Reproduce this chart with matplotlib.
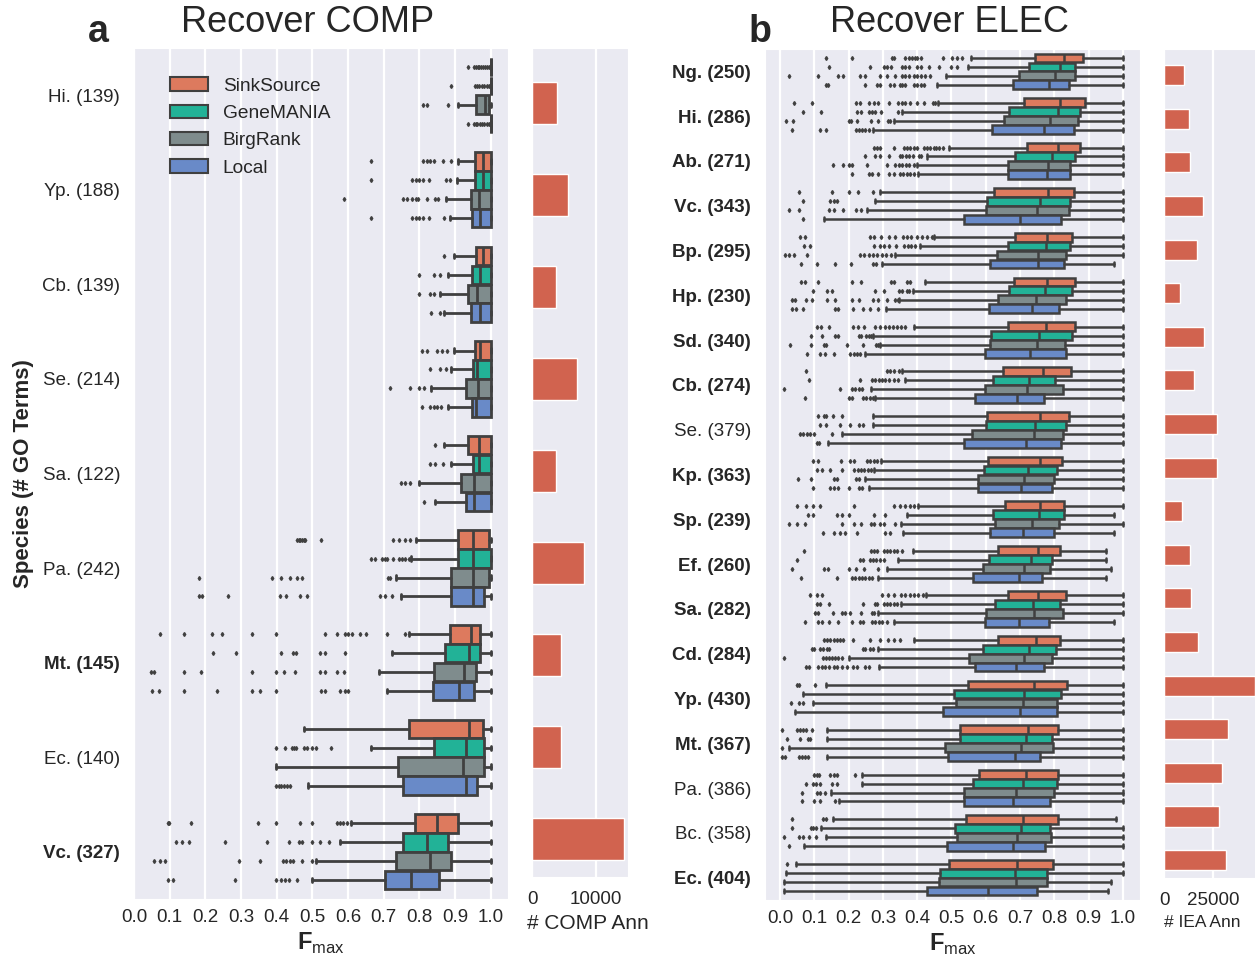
import numpy as np
import matplotlib
matplotlib.use('Agg')
import matplotlib.pyplot as plt
from matplotlib.patches import Patch
import seaborn as sns

sns.set_style('darkgrid')
plt.rcParams['font.family'] = ['Liberation Sans', 'DejaVu Sans']
plt.rcParams['mathtext.fontset'] = 'custom'
plt.rcParams['mathtext.rm'] = 'Liberation Sans'
plt.rcParams['mathtext.bf'] = 'Liberation Sans:bold'
plt.rcParams['text.color'] = '.15'
plt.rcParams['xtick.color'] = '.15'
plt.rcParams['ytick.color'] = '.15'

methods = ['SinkSource', 'GeneMANIA', 'BirgRank', 'Local']
box_colors = ['#dd7a5e', '#22b297', '#7f8c8d', '#698ac8']
bar_color = '#d1634f'
line_gray = '#404040'

# ---------------- COMP ----------------
comp_species = ['Hi. (139)', 'Yp. (188)', 'Cb. (139)', 'Se. (214)', 'Sa. (122)',
                'Pa. (242)', 'Mt. (145)', 'Ec. (140)', 'Vc. (327)']
comp_bold = [False, False, False, False, False, False, True, False, True]
comp_ann = [3950, 5660, 3800, 7050, 3800, 8140, 4570, 4570, 14300]

# rows: whislo, q1, median, q3, whishi
comp_sinksource = [
    [1.0, 1.0, 1.0, 1.0, 1.0], [0.907, 0.955, 0.977, 1.0, 1.0],
    [0.897, 0.957, 0.977, 1.0, 1.0], [0.897, 0.955, 0.970, 1.0, 1.0],
    [0.868, 0.937, 0.968, 1.0, 1.0], [0.791, 0.907, 0.951, 0.994, 1.0],
    [0.770, 0.886, 0.944, 0.970, 1.0], [0.476, 0.770, 0.938, 0.977, 1.0],
    [0.608, 0.786, 0.849, 0.909, 1.0]]
comp_sinksource_fl = [
    [0.937, 0.953, 0.958, 0.963, 0.968, 0.973, 0.978, 0.984, 0.989, 0.994],
    [0.664, 0.81, 0.82, 0.83, 0.84, 0.866, 0.888],
    [0.868],
    [0.807, 0.82, 0.85, 0.863, 0.877],
    [0.844],
    [0.457, 0.461, 0.465, 0.47, 0.475, 0.48, 0.524, 0.726, 0.742, 0.758, 0.772],
    [0.072, 0.141, 0.219, 0.247, 0.331, 0.399, 0.536, 0.57, 0.592, 0.6, 0.61,
     0.634, 0.651, 0.709, 0.76],
    [],
    [0.094, 0.097, 0.16, 0.347, 0.399, 0.464, 0.499, 0.569, 0.578, 0.587, 0.597]]

comp_genemania = [
    [1.0, 1.0, 1.0, 1.0, 1.0], [0.905, 0.955, 0.977, 1.0, 1.0],
    [0.879, 0.947, 0.970, 1.0, 1.0], [0.888, 0.950, 0.961, 1.0, 1.0],
    [0.888, 0.950, 0.968, 1.0, 1.0], [0.776, 0.907, 0.951, 1.0, 1.0],
    [0.723, 0.872, 0.938, 0.970, 1.0], [0.665, 0.840, 0.931, 0.981, 1.0],
    [0.578, 0.754, 0.821, 0.879, 1.0]]
comp_genemania_fl = [
    [0.888, 0.955, 0.96, 0.968, 0.975, 0.98, 0.988, 0.994],
    [0.664, 0.78, 0.79, 0.80, 0.81, 0.828, 0.874, 0.885],
    [0.80, 0.84, 0.857],
    [0.83, 0.857, 0.873],
    [0.83, 0.844, 0.866],
    [0.664, 0.676, 0.694, 0.704, 0.709, 0.726, 0.742, 0.751, 0.76, 0.77],
    [0.221, 0.287, 0.412, 0.446, 0.455, 0.52, 0.536, 0.592],
    [0.399, 0.424, 0.443, 0.448, 0.455, 0.476, 0.485, 0.499, 0.511, 0.553],
    [0.119, 0.135, 0.153, 0.256, 0.373, 0.434, 0.462, 0.471, 0.499, 0.522, 0.546]]

comp_birgrank = [
    [0.907, 0.959, 0.984, 0.994, 1.0], [0.873, 0.943, 0.968, 1.0, 1.0],
    [0.857, 0.937, 0.961, 1.0, 1.0], [0.833, 0.931, 0.963, 1.0, 1.0],
    [0.800, 0.917, 0.954, 1.0, 1.0], [0.735, 0.888, 0.951, 0.994, 1.0],
    [0.687, 0.842, 0.924, 0.959, 1.0], [0.399, 0.741, 0.922, 0.980, 1.0],
    [0.511, 0.734, 0.830, 0.889, 1.0]]
comp_birgrank_fl = [
    [0.81, 0.82, 0.88],
    [0.588, 0.755, 0.765, 0.78, 0.79, 0.797, 0.82, 0.844, 0.853],
    [0.80, 0.83, 0.842],
    [0.718, 0.772, 0.80, 0.812],
    [0.748, 0.76, 0.774],
    [0.183, 0.387, 0.413, 0.438, 0.457, 0.471, 0.713, 0.718],
    [0.048, 0.057, 0.141, 0.188, 0.331, 0.399, 0.42, 0.452, 0.522, 0.536, 0.57, 0.589],
    [],
    [0.057, 0.074, 0.088, 0.294, 0.352, 0.418, 0.427, 0.436, 0.446, 0.471, 0.499]]

comp_local = [
    [1.0, 1.0, 1.0, 1.0, 1.0], [0.886, 0.947, 0.970, 1.0, 1.0],
    [0.868, 0.945, 0.970, 1.0, 1.0], [0.879, 0.947, 0.958, 1.0, 1.0],
    [0.844, 0.931, 0.954, 1.0, 1.0], [0.748, 0.888, 0.951, 0.981, 1.0],
    [0.709, 0.837, 0.910, 0.954, 1.0], [0.487, 0.755, 0.931, 0.961, 1.0],
    [0.499, 0.704, 0.777, 0.856, 1.0]]
comp_local_fl = [
    [0.937, 0.952, 0.957, 0.962, 0.97, 0.975, 0.98, 0.99, 0.995],
    [0.664, 0.78, 0.79, 0.80, 0.81, 0.828, 0.868],
    [0.832, 0.857],
    [0.807, 0.83, 0.84, 0.85, 0.86],
    [0.812],
    [0.183, 0.19, 0.263, 0.41, 0.426, 0.466, 0.485, 0.69, 0.704, 0.723],
    [0.05, 0.069, 0.141, 0.233, 0.331, 0.352, 0.399, 0.524, 0.536, 0.576, 0.592, 0.601],
    [0.399, 0.406, 0.412, 0.42, 0.428, 0.438],
    [0.094, 0.109, 0.284, 0.399, 0.412, 0.424, 0.433, 0.457]]

# ---------------- ELEC ----------------
elec_species = ['Ng. (250)', 'Hi. (286)', 'Ab. (271)', 'Vc. (343)', 'Bp. (295)',
                'Hp. (230)', 'Sd. (340)', 'Cb. (274)', 'Se. (379)', 'Kp. (363)',
                'Sp. (239)', 'Ef. (260)', 'Sa. (282)', 'Cd. (284)', 'Yp. (430)',
                'Mt. (367)', 'Pa. (386)', 'Bc. (358)', 'Ec. (404)']
elec_bold = [True, True, True, True, True, True, True, True, False, True,
             True, True, True, True, True, True, False, False, True]
elec_ann = [10350, 12880, 13380, 19950, 16920, 8330, 20450, 15400, 27020, 27020,
            9340, 13380, 13890, 17420, 46500, 32570, 29540, 28030, 31560]

elec_sinksource = [
    [0.557, 0.745, 0.828, 0.883, 1.0], [0.461, 0.711, 0.818, 0.891, 1.0],
    [0.492, 0.719, 0.810, 0.874, 1.0], [0.292, 0.623, 0.781, 0.857, 1.0],
    [0.450, 0.685, 0.779, 0.852, 1.0], [0.424, 0.682, 0.779, 0.859, 1.0],
    [0.391, 0.664, 0.777, 0.859, 1.0], [0.357, 0.649, 0.767, 0.849, 1.0],
    [0.271, 0.604, 0.757, 0.844, 1.0], [0.294, 0.606, 0.757, 0.823, 1.0],
    [0.402, 0.655, 0.757, 0.828, 1.0], [0.387, 0.636, 0.752, 0.816, 0.951],
    [0.426, 0.665, 0.753, 0.833, 1.0], [0.391, 0.636, 0.747, 0.818, 1.0],
    [0.133, 0.548, 0.742, 0.837, 1.0], [0.136, 0.526, 0.723, 0.811, 1.0],
    [0.239, 0.579, 0.716, 0.810, 1.0], [0.153, 0.542, 0.708, 0.811, 0.979],
    [0.047, 0.492, 0.691, 0.796, 1.0]]
elec_sinksource_fl = [
    [0.133, 0.211, 0.326, 0.333, 0.365, 0.375, 0.385, 0.395, 0.4, 0.41, 0.475, 0.501, 0.516, 0.531],
    [0.041, 0.094, 0.222, 0.234, 0.26, 0.273, 0.287, 0.319, 0.343, 0.355, 0.365, 0.378,
     0.399, 0.421, 0.446, 0.453],
    [0.273, 0.282, 0.292, 0.333, 0.362, 0.37, 0.38, 0.39, 0.399, 0.419, 0.428, 0.438,
     0.448, 0.455, 0.465, 0.475],
    [0.056, 0.151, 0.2, 0.226, 0.271],
    [0.058, 0.073, 0.263, 0.275, 0.294, 0.319, 0.336, 0.358, 0.37, 0.382, 0.4, 0.414,
     0.428, 0.443],
    [0.06, 0.073, 0.112, 0.209, 0.236, 0.323, 0.333, 0.37, 0.378],
    [0.109, 0.119, 0.143, 0.214, 0.226, 0.246, 0.278, 0.292, 0.307, 0.319, 0.329, 0.341,
     0.352, 0.365],
    [0.076, 0.312, 0.32, 0.331, 0.346],
    [0.11, 0.127, 0.133, 0.153, 0.18],
    [0.097, 0.112, 0.178, 0.204, 0.216, 0.253, 0.263, 0.273, 0.282],
    [0.049, 0.076, 0.097, 0.117, 0.216, 0.331, 0.35, 0.365, 0.38, 0.39],
    [0.07, 0.266, 0.275, 0.284, 0.302, 0.312, 0.321, 0.331, 0.341, 0.357],
    [0.086, 0.107, 0.122, 0.297, 0.316, 0.331, 0.352, 0.365, 0.378, 0.39, 0.401, 0.417],
    [0.129, 0.137, 0.146, 0.156, 0.166, 0.175, 0.183, 0.214, 0.263, 0.292, 0.316, 0.333, 0.351],
    [0.049, 0.056, 0.102],
    [0.005, 0.049, 0.058, 0.068, 0.076, 0.094],
    [0.099, 0.107, 0.114, 0.146, 0.156, 0.166, 0.219],
    [0.034, 0.125, 0.133],
    [0.021]]

elec_genemania = [
    [0.548, 0.725, 0.818, 0.859, 1.0], [0.357, 0.667, 0.810, 0.876, 1.0],
    [0.430, 0.685, 0.794, 0.859, 1.0], [0.278, 0.604, 0.759, 0.845, 1.0],
    [0.409, 0.665, 0.776, 0.845, 1.0], [0.387, 0.667, 0.772, 0.852, 1.0],
    [0.271, 0.615, 0.755, 0.852, 1.0], [0.363, 0.620, 0.725, 0.801, 1.0],
    [0.270, 0.601, 0.745, 0.835, 1.0], [0.275, 0.594, 0.722, 0.808, 1.0],
    [0.370, 0.620, 0.755, 0.828, 0.974], [0.343, 0.609, 0.733, 0.794, 0.951],
    [0.352, 0.628, 0.737, 0.818, 1.0], [0.285, 0.591, 0.725, 0.805, 1.0],
    [0.068, 0.508, 0.711, 0.820, 1.0], [0.136, 0.526, 0.716, 0.794, 1.0],
    [0.239, 0.562, 0.708, 0.808, 1.0], [0.120, 0.511, 0.703, 0.786, 1.0],
    [0.018, 0.467, 0.685, 0.779, 1.0]]
elec_genemania_fl = [
    [0.143, 0.263, 0.302, 0.312, 0.323, 0.355, 0.365, 0.375, 0.4, 0.41, 0.433, 0.463, 0.5, 0.516],
    [0.068, 0.119, 0.224, 0.236, 0.26, 0.268, 0.276, 0.295, 0.343],
    [0.248, 0.277, 0.292, 0.319, 0.349, 0.357, 0.366, 0.375, 0.387, 0.404, 0.411],
    [0.066, 0.146, 0.156, 0.166],
    [0.07, 0.088, 0.275, 0.292, 0.302, 0.319, 0.339, 0.362, 0.372, 0.382, 0.394],
    [0.097, 0.136, 0.151, 0.277, 0.304, 0.346, 0.357, 0.37, 0.375],
    [0.091, 0.122, 0.159, 0.168, 0.229, 0.236, 0.251, 0.258, 0.265],
    [0.083, 0.234, 0.268, 0.278, 0.288, 0.297, 0.307, 0.319, 0.331, 0.343],
    [0.115, 0.133, 0.175, 0.203, 0.229, 0.241],
    [0.107, 0.122, 0.146, 0.18, 0.216, 0.226, 0.236, 0.246, 0.256, 0.265],
    [0.08, 0.097, 0.166, 0.182, 0.2, 0.275, 0.307],
    [0.049, 0.232, 0.241, 0.261, 0.271, 0.281, 0.292, 0.302],
    [0.107, 0.117, 0.143, 0.241, 0.277, 0.284, 0.302, 0.312, 0.321, 0.331, 0.341],
    [0.094, 0.1, 0.117, 0.126, 0.136, 0.144, 0.241, 0.248, 0.263, 0.271],
    [],
    [0.019, 0.058, 0.08, 0.088],
    [0.076, 0.095, 0.105, 0.117, 0.151, 0.166],
    [0.034, 0.091, 0.097, 0.104],
    []]

elec_birgrank = [
    [0.484, 0.698, 0.801, 0.859, 1.0], [0.331, 0.652, 0.786, 0.869, 1.0],
    [0.399, 0.665, 0.781, 0.845, 1.0], [0.253, 0.601, 0.750, 0.842, 1.0],
    [0.336, 0.633, 0.753, 0.835, 1.0], [0.346, 0.636, 0.748, 0.834, 1.0],
    [0.292, 0.611, 0.750, 0.831, 1.0], [0.266, 0.599, 0.721, 0.825, 1.0],
    [0.182, 0.560, 0.740, 0.825, 1.0], [0.248, 0.577, 0.713, 0.800, 1.0],
    [0.352, 0.628, 0.735, 0.813, 1.0], [0.312, 0.592, 0.713, 0.786, 0.966],
    [0.285, 0.602, 0.740, 0.825, 1.0], [0.202, 0.552, 0.713, 0.794, 1.0],
    [0.097, 0.514, 0.709, 0.808, 1.0], [0.027, 0.482, 0.703, 0.797, 1.0],
    [0.149, 0.536, 0.688, 0.800, 1.0], [0.134, 0.516, 0.691, 0.789, 1.0],
    [0.012, 0.465, 0.689, 0.779, 0.964]]
elec_birgrank_fl = [
    [0.027, 0.11, 0.17, 0.185, 0.234, 0.248, 0.292, 0.312, 0.336, 0.355, 0.365, 0.375,
     0.39, 0.4, 0.41, 0.424, 0.438],
    [0.018, 0.037, 0.2, 0.207, 0.224, 0.265, 0.287, 0.316, 0.321],
    [0.153, 0.185, 0.2, 0.209, 0.255, 0.312, 0.336, 0.346, 0.355, 0.367, 0.377, 0.39],
    [0.027, 0.054, 0.143, 0.156, 0.183, 0.222, 0.236],
    [0.015, 0.027, 0.041, 0.078, 0.232, 0.245, 0.258, 0.271, 0.284, 0.297, 0.31, 0.323],
    [0.034, 0.044, 0.076, 0.093, 0.136, 0.161, 0.209, 0.231, 0.271, 0.285, 0.312, 0.334, 0.343],
    [0.029, 0.091, 0.127, 0.133, 0.195, 0.241, 0.28, 0.287],
    [0.012, 0.175, 0.209, 0.219, 0.229, 0.238],
    [0.058, 0.068, 0.078, 0.088, 0.099, 0.151],
    [0.052, 0.091, 0.158, 0.166, 0.222, 0.229],
    [0.026, 0.049, 0.073, 0.182, 0.216, 0.236, 0.265, 0.275, 0.292, 0.302, 0.334],
    [0.034, 0.129, 0.141, 0.2, 0.222, 0.246, 0.285],
    [0.102, 0.11, 0.153, 0.18, 0.19, 0.204, 0.236, 0.268, 0.275],
    [0.012, 0.124, 0.133, 0.142, 0.151, 0.161, 0.17, 0.18],
    [0.031, 0.056, 0.066],
    [0.007],
    [0.065, 0.107, 0.115, 0.131],
    [0.012, 0.056, 0.066, 0.083, 0.105],
    []]

elec_local = [
    [0.458, 0.680, 0.784, 0.842, 1.0], [0.270, 0.618, 0.769, 0.857, 1.0],
    [0.401, 0.665, 0.779, 0.845, 1.0], [0.127, 0.538, 0.701, 0.820, 1.0],
    [0.297, 0.613, 0.753, 0.828, 0.974], [0.309, 0.609, 0.735, 0.815, 1.0],
    [0.248, 0.597, 0.730, 0.833, 1.0], [0.278, 0.570, 0.691, 0.769, 1.0],
    [0.139, 0.538, 0.716, 0.820, 1.0], [0.260, 0.577, 0.703, 0.794, 1.0],
    [0.358, 0.611, 0.709, 0.800, 0.974], [0.285, 0.563, 0.698, 0.764, 0.951],
    [0.333, 0.597, 0.696, 0.784, 0.974], [0.289, 0.570, 0.688, 0.771, 1.0],
    [0.044, 0.475, 0.701, 0.808, 1.0], [0.138, 0.489, 0.685, 0.759, 1.0],
    [0.173, 0.536, 0.679, 0.787, 1.0], [0.071, 0.487, 0.680, 0.774, 1.0],
    [0.012, 0.428, 0.607, 0.750, 0.956]]
elec_local_fl = [
    [0.133, 0.141, 0.248, 0.282, 0.292, 0.321, 0.333, 0.35, 0.357, 0.365, 0.39, 0.4, 0.41, 0.42],
    [0.034, 0.117, 0.133, 0.221, 0.23, 0.24, 0.249, 0.258],
    [0.211, 0.258, 0.268, 0.285, 0.319, 0.333, 0.349, 0.359, 0.369, 0.379, 0.39],
    [0.068],
    [0.06, 0.107, 0.161, 0.207, 0.271, 0.28],
    [0.034, 0.046, 0.066, 0.161, 0.17, 0.214, 0.241, 0.263, 0.285],
    [0.078, 0.117, 0.13, 0.158, 0.203, 0.216, 0.224, 0.232],
    [0.073, 0.2, 0.209, 0.241, 0.25, 0.261, 0.27],
    [0.107, 0.114],
    [0.097, 0.146, 0.158, 0.168, 0.2, 0.229, 0.238],
    [0.124, 0.156, 0.175, 0.19, 0.224, 0.307, 0.321],
    [0.061, 0.166, 0.209, 0.219, 0.229, 0.239, 0.249, 0.258, 0.268],
    [0.073, 0.112, 0.122, 0.144, 0.168, 0.209, 0.234, 0.241, 0.268, 0.278, 0.288, 0.298, 0.312],
    [0.076, 0.083, 0.112, 0.122, 0.132, 0.142, 0.156, 0.166, 0.181, 0.194, 0.214, 0.224,
     0.248, 0.258],
    [],
    [0.007, 0.015, 0.056, 0.064, 0.072, 0.08],
    [0.065, 0.1, 0.117, 0.161],
    [0.026],
    []]


def draw_boxes(ax, stats_list, fliers_list, lw, capw):
    n = len(stats_list[0])
    for j, (stats, fls, color) in enumerate(zip(stats_list, fliers_list, box_colors)):
        pos = np.arange(n) + (j - 1.5) * 0.2
        bstats = [dict(whislo=s[0], q1=s[1], med=s[2], q3=s[3], whishi=s[4],
                       fliers=np.array(f)) for s, f in zip(stats, fls)]
        ax.bxp(bstats, positions=pos, widths=0.2 * 0.98, orientation='horizontal',
               patch_artist=True, capwidths=capw, manage_ticks=False,
               boxprops=dict(facecolor=color, edgecolor=line_gray, linewidth=lw),
               whiskerprops=dict(color=line_gray, linewidth=lw),
               capprops=dict(color=line_gray, linewidth=lw),
               medianprops=dict(color=line_gray, linewidth=lw),
               flierprops=dict(marker='d', markersize=2.0, markerfacecolor=line_gray,
                               markeredgecolor=line_gray, linestyle='none'))
    ax.set_ylim(n - 0.5, -0.5)


def style_species(ax, labels, bold):
    ax.set_yticks(range(len(labels)))
    ax.set_yticklabels(labels, fontsize=13.5)
    for t, b in zip(ax.get_yticklabels(), bold):
        t.set_fontweight('bold' if b else 'normal')
    ax.tick_params(axis='y', pad=10, length=0)
    ax.tick_params(axis='x', pad=7, length=0, labelsize=13.5)
    ax.grid(axis='y', visible=False)
    ax.grid(axis='x', color='white', linewidth=1.6)
    ax.set_xticks(np.arange(0, 1.01, 0.1))
    ax.set_xticklabels(['%.1f' % v for v in np.arange(0, 1.01, 0.1)])


def style_bars(ax, n, ticks, xlabel, xmax, labelsize, label_x):
    ax.set_ylim(n - 1 + 0.41, -0.6)
    ax.set_yticks([])
    ax.set_xlim(0, xmax)
    ax.set_xticks(ticks)
    ax.set_xticklabels([str(t) for t in ticks])
    ax.tick_params(axis='x', pad=10, length=0, labelsize=13.5)
    ax.grid(axis='y', visible=False)
    ax.grid(axis='x', color='white', linewidth=1.6)
    ax.set_xlabel(xlabel, fontsize=labelsize)
    ax.xaxis.set_label_coords(label_x, -0.045)


W, H = 1255.0, 958.0
fig = plt.figure(figsize=(12.55, 9.58), dpi=100)


def px_axes(left, top, right, bottom):
    return fig.add_axes([left / W, 1 - bottom / H, (right - left) / W, (bottom - top) / H])


ax_comp = px_axes(134, 48, 508, 899)
ax_comp_bar = px_axes(532, 48, 628, 877)
ax_elec = px_axes(765, 49, 1140, 900)
ax_elec_bar = px_axes(1164, 49, 1260, 878)

# COMP panel
draw_boxes(ax_comp, [comp_sinksource, comp_genemania, comp_birgrank, comp_local],
           [comp_sinksource_fl, comp_genemania_fl, comp_birgrank_fl, comp_local_fl],
           lw=2.0, capw=0.045)
style_species(ax_comp, comp_species, comp_bold)
ax_comp.set_xlim(0, 1.048)
ax_comp.set_xlabel(r'$\mathbf{F}_{\mathrm{max}}$', fontsize=17, labelpad=4)
ax_comp.set_ylabel('Species (# GO Terms)', fontsize=16, fontweight='bold', labelpad=6)

handles = [Patch(facecolor=c, edgecolor=line_gray, linewidth=1.5) for c in box_colors]
ax_comp.legend(handles, methods, loc='upper left', bbox_to_anchor=(0.05, 0.986),
               frameon=False, fontsize=13.8, handlelength=2.0, handleheight=0.7,
               handletextpad=0.75, labelspacing=0.52)

ax_comp_bar.barh(range(len(comp_ann)), comp_ann, height=0.46, color=bar_color)
style_bars(ax_comp_bar, len(comp_ann), [0, 10000], '# COMP Ann', 15000, 15, 0.58)

# ELEC panel
draw_boxes(ax_elec, [elec_sinksource, elec_genemania, elec_birgrank, elec_local],
           [elec_sinksource_fl, elec_genemania_fl, elec_birgrank_fl, elec_local_fl],
           lw=1.8, capw=0.09)
style_species(ax_elec, elec_species, elec_bold)
ax_elec.set_xlim(-0.044, 1.05)
ax_elec.set_xlabel(r'$\mathbf{F}_{\mathrm{max}}$', fontsize=17, labelpad=4)

ax_elec_bar.barh(range(len(elec_ann)), elec_ann, height=0.46, color=bar_color)
style_bars(ax_elec_bar, len(elec_ann), [0, 25000], '# IEA Ann', 48800, 12.5, 0.40)

# titles and panel letters
fig.text(308 / W, 1 - 22 / H, 'Recover COMP', ha='center', va='center', fontsize=26)
fig.text(949 / W, 1 - 22 / H, 'Recover ELEC', ha='center', va='center', fontsize=26)
fig.text(98 / W, 1 - 32 / H, 'a', ha='center', va='center', fontsize=27, fontweight='bold')
fig.text(760 / W, 1 - 32 / H, 'b', ha='center', va='center', fontsize=27, fontweight='bold')

fig.savefig('out.png', dpi=100)
